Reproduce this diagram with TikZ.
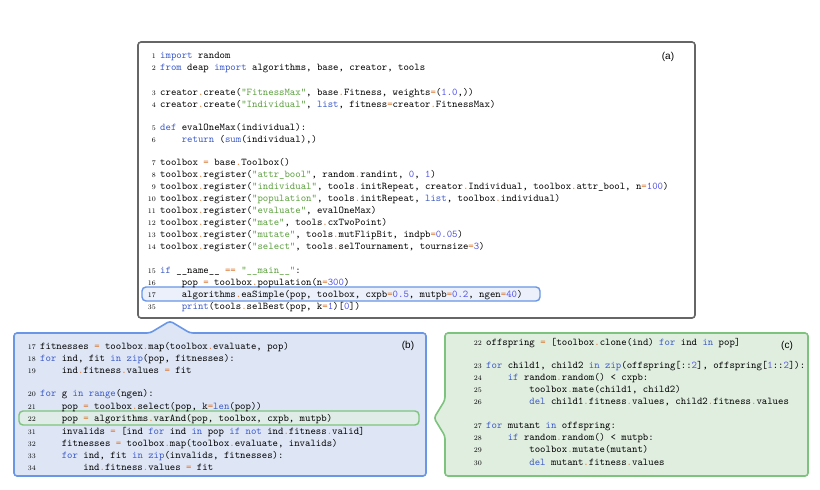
\documentclass[tikz,border=0pt]{standalone}
\usepackage{fontspec}
\setsansfont{Liberation Sans}
\definecolor{kw}{RGB}{60,90,200}
\definecolor{st}{RGB}{90,160,60}
\definecolor{nm}{RGB}{80,80,230}
\definecolor{op}{RGB}{220,120,50}
\definecolor{bfill}{RGB}{222,230,246}
\definecolor{bdraw}{RGB}{105,150,230}
\definecolor{cfill}{RGB}{224,238,224}
\definecolor{cdraw}{RGB}{125,195,125}
\newcommand\K[1]{\textcolor{kw}{#1}}
\newcommand\Str[1]{\textcolor{st}{#1}}
\newcommand\Nm[1]{\textcolor{nm}{#1}}
\newcommand\Dt{\textcolor{op}{.}}
\newcommand\Eq{\textcolor{op}{=}}
\newcommand\Id{\hspace*{21.6pt}}
\newcommand\cl[5]{\node[lnum] (n#1) at (#2-4,#3) {#4};\node[code] (c#1) at (#2,#3) {#5};}
\begin{document}
\begin{tikzpicture}[x=1pt,y=-1pt,
  code/.style={anchor=base west,inner sep=0pt,font=\fontsize{10.3}{12}\ttfamily},
  lnum/.style={anchor=base east,inner sep=0pt,font=\fontsize{7}{8}\rmfamily},
  lab/.style={inner sep=0pt,font=\fontsize{10}{12}\sffamily}]
\useasboundingbox (0,0) rectangle (820,490);
% box a
\draw[rounded corners=3pt,draw=gray!80!black,line width=1.6pt,fill=white] (138,42) rectangle (695,318);
\node[lab] (la) at (668,57) {(a)};
% box b
\draw[rounded corners=3pt,draw=bdraw,line width=1.6pt,fill=bfill]
 (14,333) -- (150,333) -- (170,321) -- (190,333) -- (426,333) -- (426,476) -- (14,476) -- cycle;
\node[lab] (lb) at (408,346) {(b)};
% box c
\draw[rounded corners=3pt,draw=cdraw,line width=1.6pt,fill=cfill]
 (445,333) -- (808,333) -- (808,476) -- (445,476) -- (445,436) -- (434,418) -- (445,400) -- cycle;
\node[lab] (lc) at (787,346) {(c)};
% highlights
\draw[rounded corners=4pt,draw=bdraw,line width=1.4pt,fill=bfill!60] (142,287) rectangle (540,301);
\draw[rounded corners=4pt,draw=cdraw,line width=1.4pt,fill=cfill!70!bfill] (19,411) rectangle (419,425);
% code a
\cl{a1}{160}{58}{1}{\K{import} random}
\cl{a2}{160}{70}{2}{\K{from} deap \K{import} algorithms, base, creator, tools}
\cl{a3}{160}{95}{3}{creator\Dt create(\Str{"FitnessMax"}, base\Dt Fitness, weights\Eq(\Nm{1.0},))}
\cl{a4}{160}{107}{4}{creator\Dt create(\Str{"Individual"}, \K{list}, fitness\Eq creator\Dt FitnessMax)}
\cl{a5}{160}{130}{5}{\K{def} evalOneMax(individual):}
\cl{a6}{160}{142}{6}{\Id\K{return} (\K{sum}(individual),)}
\cl{a7}{160}{165}{7}{toolbox \Eq{} base\Dt Toolbox()}
\cl{a8}{160}{177}{8}{toolbox\Dt register(\Str{"attr\_bool"}, random\Dt randint, \Nm{0}, \Nm{1})}
\cl{a9}{160}{189}{9}{toolbox\Dt register(\Str{"individual"}, tools\Dt initRepeat, creator\Dt Individual, toolbox\Dt attr\_bool, n\Eq\Nm{100})}
\cl{a10}{160}{201}{10}{toolbox\Dt register(\Str{"population"}, tools\Dt initRepeat, \K{list}, toolbox\Dt individual)}
\cl{a11}{160}{213}{11}{toolbox\Dt register(\Str{"evaluate"}, evalOneMax)}
\cl{a12}{160}{225}{12}{toolbox\Dt register(\Str{"mate"}, tools\Dt cxTwoPoint)}
\cl{a13}{160}{237}{13}{toolbox\Dt register(\Str{"mutate"}, tools\Dt mutFlipBit, indpb\Eq\Nm{0.05})}
\cl{a14}{160}{249}{14}{toolbox\Dt register(\Str{"select"}, tools\Dt selTournament, tournsize\Eq\Nm{3})}
\cl{a15}{160}{273}{15}{\K{if} \_\_name\_\_ \Eq\Eq{} \Str{"\_\_main\_\_"}:}
\cl{a16}{160}{285}{16}{\Id pop \Eq{} toolbox\Dt population(n\Eq\Nm{300})}
\cl{a17}{160}{297}{17}{\Id algorithms\Dt eaSimple(pop, toolbox, cxpb\Eq\Nm{0.5}, mutpb\Eq\Nm{0.2}, ngen\Eq\Nm{40})}
\cl{a35}{160}{309}{35}{\Id\K{print}(tools\Dt selBest(pop, k\Eq\Nm{1})[\Nm{0}])}
% code b
\cl{b17}{40}{349}{17}{fitnesses \Eq{} toolbox\Dt map(toolbox\Dt evaluate, pop)}
\cl{b18}{40}{361}{18}{\K{for} ind, fit \K{in} \K{zip}(pop, fitnesses):}
\cl{b19}{40}{373}{19}{\Id ind\Dt fitness\Dt values \Eq{} fit}
\cl{b20}{40}{396}{20}{\K{for} g \K{in} \K{range}(ngen):}
\cl{b21}{40}{409}{21}{\Id pop \Eq{} toolbox\Dt select(pop, k\Eq\K{len}(pop))}
\cl{b22}{40}{421}{22}{\Id pop \Eq{} algorithms\Dt varAnd(pop, toolbox, cxpb, mutpb)}
\cl{b31}{40}{434}{31}{\Id invalids \Eq{} [ind \K{for} ind \K{in} pop \K{if} \K{not} ind\Dt fitness\Dt valid]}
\cl{b32}{40}{446}{32}{\Id fitnesses \Eq{} toolbox\Dt map(toolbox\Dt evaluate, invalids)}
\cl{b33}{40}{458}{33}{\Id\K{for} ind, fit \K{in} \K{zip}(invalids, fitnesses):}
\cl{b34}{40}{470}{34}{\Id\Id ind\Dt fitness\Dt values \Eq{} fit}
% code c
\cl{c22}{486}{345}{22}{offspring \Eq{} [toolbox\Dt clone(ind) \K{for} ind \K{in} pop]}
\cl{c23}{486}{368}{23}{\K{for} child1, child2 \K{in} \K{zip}(offspring[::\Nm{2}], offspring[\Nm{1}::\Nm{2}]):}
\cl{c24}{486}{380}{24}{\Id\K{if} random\Dt random() < cxpb:}
\cl{c25}{486}{392}{25}{\Id\Id toolbox\Dt mate(child1, child2)}
\cl{c26}{486}{404}{26}{\Id\Id\K{del} child1\Dt fitness\Dt values, child2\Dt fitness\Dt values}
\cl{c27}{486}{428}{27}{\K{for} mutant \K{in} offspring:}
\cl{c28}{486}{440}{28}{\Id\K{if} random\Dt random() < mutpb:}
\cl{c29}{486}{452}{29}{\Id\Id toolbox\Dt mutate(mutant)}
\cl{c30}{486}{465}{30}{\Id\Id\K{del} mutant\Dt fitness\Dt values}
\end{tikzpicture}
\end{document}
